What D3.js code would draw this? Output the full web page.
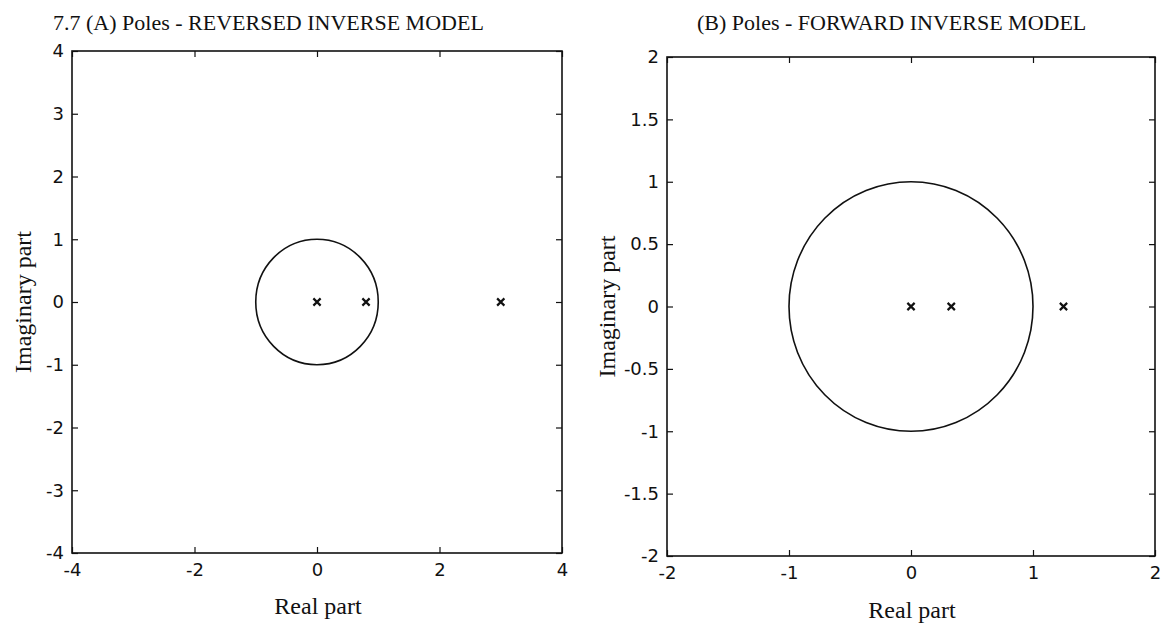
<!DOCTYPE html>
<html>
<head>
<meta charset="utf-8">
<script src="https://cdn.jsdelivr.net/npm/d3@7"></script>
<style>
  html, body { margin: 0; padding: 0; background: #fff; }
  svg { display: block; }
  .tick text { font-family: "DejaVu Sans", sans-serif; font-size: 18px; fill: #111; }
  .tick line { stroke: #111; stroke-width: 1.2; }
  .lbl { font-family: "Liberation Serif", serif; fill: #111; }
</style>
</head>
<body>
<script>
// Pole locations (real, imaginary) for the two inverse models
const polesReA = [0, 0.8, 3.0];
const polesImA = [0, 0, 0];
const polesReB = [0, 0.33, 1.25];
const polesImB = [0, 0, 0];

// Axis ranges and tick values
const realTicksA = [-4, -2, 0, 2, 4];
const imagTicksA = [-4, -3, -2, -1, 0, 1, 2, 3, 4];
const realTicksB = [-2, -1, 0, 1, 2];
const imagTicksB = [-2, -1.5, -1, -0.5, 0, 0.5, 1, 1.5, 2];

// Unit circle (stability boundary)
const unitRadius = 1;

const titles = ["7.7 (A) Poles - REVERSED INVERSE MODEL", "(B) Poles - FORWARD INVERSE MODEL"];

const W = 1167, H = 635;
const svg = d3.select("body").append("svg").attr("width", W).attr("height", H);

const panels = [
  { box: { l: 72, r: 562, t: 51, b: 553 }, dom: [-4, 4], rt: realTicksA, it: imagTicksA,
    re: polesReA, im: polesImA, title: titles[0], titleX: 53, xLabX: 318, xLabY: 614, yLabX: 31 },
  { box: { l: 667, r: 1155, t: 57, b: 556 }, dom: [-2, 2], rt: realTicksB, it: imagTicksB,
    re: polesReB, im: polesImB, title: titles[1], titleX: 697, xLabX: 912, xLabY: 618, yLabX: 615 }
];

panels.forEach(p => {
  const x = d3.scaleLinear().domain(p.dom).range([p.box.l, p.box.r]);
  const y = d3.scaleLinear().domain(p.dom).range([p.box.b, p.box.t]);
  const g = svg.append("g");
  const tk = 6;

  // bottom axis with labels, ticks pointing inward
  g.append("g").attr("transform", `translate(0,${p.box.b})`)
    .call(d3.axisBottom(x).tickValues(p.rt).tickSizeInner(-tk).tickSizeOuter(0).tickPadding(10).tickFormat(d => String(d)))
    .call(a => a.select(".domain").remove());
  // left axis with labels
  g.append("g").attr("transform", `translate(${p.box.l},0)`)
    .call(d3.axisLeft(y).tickValues(p.it).tickSizeInner(-tk).tickSizeOuter(0).tickPadding(8).tickFormat(d => String(d)))
    .call(a => a.select(".domain").remove());
  // top and right ticks, no labels
  g.append("g").attr("transform", `translate(0,${p.box.t})`)
    .call(d3.axisTop(x).tickValues(p.rt).tickSizeInner(-tk).tickSizeOuter(0).tickFormat(""))
    .call(a => a.select(".domain").remove());
  g.append("g").attr("transform", `translate(${p.box.r},0)`)
    .call(d3.axisRight(y).tickValues(p.it).tickSizeInner(-tk).tickSizeOuter(0).tickFormat(""))
    .call(a => a.select(".domain").remove());

  // frame
  g.append("rect")
    .attr("x", p.box.l).attr("y", p.box.t)
    .attr("width", p.box.r - p.box.l).attr("height", p.box.b - p.box.t)
    .attr("fill", "none").attr("stroke", "#111").attr("stroke-width", 1.6);

  // unit circle
  g.append("ellipse")
    .attr("cx", x(0)).attr("cy", y(0))
    .attr("rx", x(unitRadius) - x(0)).attr("ry", y(0) - y(unitRadius))
    .attr("fill", "none").attr("stroke", "#111").attr("stroke-width", 1.6);

  // poles
  const sym = d3.symbol().type(d3.symbolX).size(36);
  g.selectAll("path.pole").data(p.re.map((r, i) => [r, p.im[i]]))
    .join("path").attr("class", "pole")
    .attr("transform", d => `translate(${x(d[0])},${y(d[1])})`)
    .attr("d", sym)
    .attr("fill", "none").attr("stroke", "#111").attr("stroke-width", 2.2);

  // title and axis labels
  g.append("text").attr("class", "lbl").attr("x", p.titleX).attr("y", 30)
    .attr("font-size", 22).text(p.title);
  g.append("text").attr("class", "lbl").attr("x", p.xLabX).attr("y", p.xLabY)
    .attr("text-anchor", "middle").attr("font-size", 24).text("Real part");
  g.append("text").attr("class", "lbl")
    .attr("transform", `translate(${p.yLabX},${(p.box.t + p.box.b) / 2}) rotate(-90)`)
    .attr("text-anchor", "middle").attr("font-size", 24).text("Imaginary part");
});
</script>
</body>
</html>
